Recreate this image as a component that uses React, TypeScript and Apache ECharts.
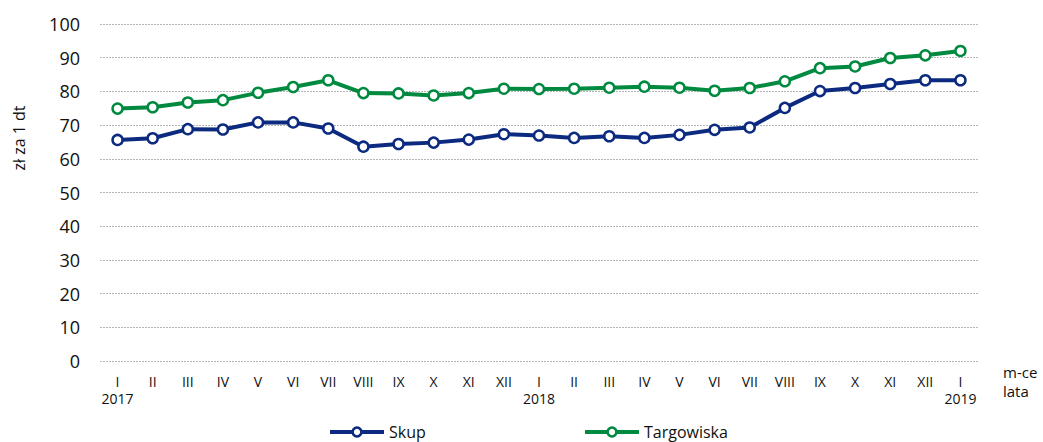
import React, { useEffect, useRef } from "react";
import * as echarts from "echarts";

const months = ["I", "II", "III", "IV", "V", "VI", "VII", "VIII", "IX", "X", "XI", "XII", "I", "II", "III", "IV", "V", "VI", "VII", "VIII", "IX", "X", "XI", "XII", "I"];
const years: Record<number, string> = { 0: "2017", 12: "2018", 24: "2019" };
const skup = [65.6, 66.1, 68.8, 68.7, 70.8, 70.8, 69.0, 63.6, 64.4, 64.8, 65.7, 67.3, 66.9, 66.2, 66.7, 66.2, 67.1, 68.6, 69.3, 75.1, 80.1, 81.0, 82.2, 83.3, 83.3];
const targowiska = [74.9, 75.3, 76.7, 77.4, 79.6, 81.3, 83.3, 79.5, 79.4, 78.8, 79.5, 80.8, 80.7, 80.8, 81.1, 81.4, 81.1, 80.2, 81.0, 83.0, 86.9, 87.4, 89.9, 90.7, 92.0];
const categories = months.map((m, i) => `${i}`);

const FONT = "'Open Sans', sans-serif";
const NAVY = "#0b2a80";
const GREEN = "#008a40";
const INK = "#111111";

export default function App() {
  const ref = useRef<HTMLDivElement>(null);
  useEffect(() => {
    if (!ref.current) return;
    const chart = echarts.init(ref.current, undefined, { renderer: "svg" });
    const mkSeries = (name: string, data: number[], color: string) => ({
      name,
      type: "line",
      xAxisIndex: 0,
      data,
      symbol: "circle",
      symbolSize: 10,
      lineStyle: { color, width: 4 },
      itemStyle: { color: "#ffffff", borderColor: color, borderWidth: 2.5 },
      emphasis: { disabled: true },
    });
    const legendBase = {
      top: 424,
      padding: 0,
      itemWidth: 54,
      itemHeight: 11,
      lineStyle: { width: 4 },
      itemStyle: { borderWidth: 2.5 },
      textStyle: { fontSize: 16, color: INK, fontFamily: FONT },
    };
    const xBase = {
      type: "category",
      data: categories,
      position: "bottom",
      boundaryGap: true,
      axisLine: { show: false },
      axisTick: { show: false },
      splitLine: { show: false },
    };
    chart.setOption({
      animation: false,
      textStyle: { fontFamily: FONT },
      grid: { left: 100, right: 65, top: 24, bottom: 81, containLabel: false },
      xAxis: [
        {
          ...xBase,
          axisLabel: {
            interval: 0,
            margin: 13,
            fontSize: 14,
            color: INK,
            fontFamily: FONT,
            formatter: (v: string) => months[Number(v)],
          },
        },
        {
          ...xBase,
          offset: 17,
          axisLabel: {
            interval: 0,
            margin: 13,
            fontSize: 14,
            color: INK,
            fontFamily: FONT,
            formatter: (v: string) => years[Number(v)] || "",
          },
        },
      ],
      yAxis: {
        type: "value",
        min: 0,
        max: 100,
        interval: 10,
        axisLine: { show: false },
        axisTick: { show: false },
        axisLabel: { fontSize: 18, color: INK, margin: 20, fontFamily: FONT },
        splitLine: { lineStyle: { color: "#b5b5b5", type: [2, 1], width: 1 } },
      },
      legend: [
        { ...legendBase, data: ["Skup"], left: 328 },
        { ...legendBase, data: ["Targowiska"], left: 583 },
      ],
      graphic: [
        {
          type: "text",
          x: 19,
          y: 138,
          rotation: Math.PI / 2,
          style: { text: "zł za 1 dt", fontSize: 16, fontFamily: FONT, fill: INK, align: "center", verticalAlign: "middle" },
        },
        {
          type: "text",
          x: 1003,
          y: 362,
          style: { text: "m-ce\nlata", fontSize: 15, lineHeight: 19, fontFamily: FONT, fill: INK, align: "left", verticalAlign: "top" },
        },
      ],
      series: [mkSeries("Skup", skup, NAVY), mkSeries("Targowiska", targowiska, GREEN)],
    });
    return () => chart.dispose();
  }, []);
  return <div ref={ref} style={{ position: "absolute", left: 0, top: 0, width: 1043, height: 442 }} />;
}
